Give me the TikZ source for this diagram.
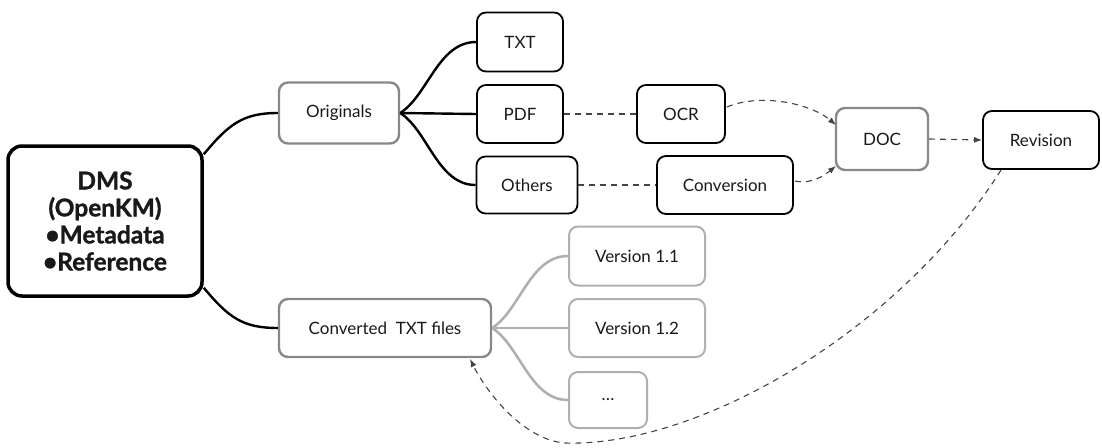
\documentclass[tikz,border=0pt]{standalone}
\usepackage{fontspec}
\setmainfont{Lato}
\newfontfamily\heavyfont[BoldFeatures={FakeBold=1.2}]{Lato}
\usetikzlibrary{arrows.meta}
\definecolor{midgray}{HTML}{888888}
\definecolor{lightgray}{HTML}{B0B0B0}
\definecolor{dashgray}{HTML}{444444}
\begin{document}
\begin{tikzpicture}[x=1pt,y=-1pt,
  box/.style={draw=black, line width=1.8pt, rounded corners=9pt, inner sep=0pt,
    font=\fontsize{17}{20}\selectfont, text=black!90},
  gbox/.style={box, draw=midgray, line width=2.4pt},
  lbox/.style={box, draw=lightgray, line width=2pt},
  conn/.style={line width=2.4pt, black},
  lconn/.style={line width=2.6pt, lightgray},
  dconn/.style={line width=1.1pt, dashgray, dash pattern=on 6pt off 5pt},
  tip/.style={-{Latex[length=8pt,width=6pt]}}]
\useasboundingbox (0,0) rectangle (1102,447);

\node[box, line width=3.5pt, rounded corners=14pt, minimum width=194pt, minimum height=150pt,
  align=center, font=\fontsize{24.5}{27}\heavyfont\bfseries] (dms) at (105,221)
  {DMS\\(OpenKM)\\\textbullet Metadata\\\textbullet Reference};

\node[gbox, minimum width=120pt, minimum height=61pt] (orig) at (339,113) {Originals};
\node[box, minimum width=86pt, minimum height=59pt] (txt) at (520,42) {TXT};
\node[box, minimum width=86pt, minimum height=58pt] (pdf) at (520,114) {PDF};
\node[box, minimum width=101pt, minimum height=57pt] (oth) at (527,185) {Others};
\node[box, minimum width=88pt, minimum height=58pt] (ocr) at (681,114) {OCR};
\node[box, minimum width=136pt, minimum height=58pt] (cnv) at (725,185) {Conversion};
\node[gbox, minimum width=92pt, minimum height=62pt] (doc) at (882,139) {DOC};
\node[box, minimum width=116pt, minimum height=58pt] (rev) at (1041,140) {Revision};
\node[gbox, minimum width=212pt, minimum height=58pt] (ctxt) at (385,328) {Converted\ \ TXT files};
\node[lbox, minimum width=136pt, minimum height=59pt] (v11) at (637,256) {Version 1.1};
\node[lbox, minimum width=136pt, minimum height=58pt] (v12) at (637,328) {Version 1.2};
\node[lbox, minimum width=78pt, minimum height=56pt] (etc) at (608,400) {\dots};

% solid connectors
\draw[conn] ([yshift=-10pt]dms.north east) .. controls +(25,-30) and +(-35,0) .. (orig.west);
\draw[conn] ([yshift=10pt]dms.south east) .. controls +(25,30) and +(-35,0) .. (ctxt.west);
\draw[conn] (orig.east) .. controls +(28,-18) and +(-38,0) .. (txt.west);
\draw[conn] (orig.east) -- (pdf.west);
\draw[conn] (orig.east) .. controls +(28,18) and +(-38,0) .. (oth.west);
\draw[lconn] (ctxt.east) .. controls +(28,-18) and +(-38,0) .. (v11.west);
\draw[lconn] (ctxt.east) -- (v12.west);
\draw[lconn] (ctxt.east) .. controls +(28,18) and +(-38,0) .. (etc.west);

% dashed connectors
\draw[dconn] (pdf.east) -- (ocr.west);
\draw[dconn] (oth.east) -- (cnv.west);
\coordinate (ocrout) at (727,107);
\coordinate (docin1) at (836,125);
\coordinate (cnvout) at (795,181);
\coordinate (docin2) at (836,166);
\draw[dconn, tip] (ocrout) .. controls (760,93) and (810,103) .. (docin1);
\draw[dconn, tip] (cnvout) .. controls (812,185) and (826,174) .. (docin2);
\draw[dconn, tip] (doc.east) -- (rev.west);
\coordinate (revout) at (1001,170);
\coordinate (low) at (565,443);
\coordinate (ctxtin) at (470,359);
\draw[dconn, tip] (revout) .. controls (900,330) and (700,447) .. (low)
  .. controls (525,440) and (488,395) .. (ctxtin);
\end{tikzpicture}
\end{document}
